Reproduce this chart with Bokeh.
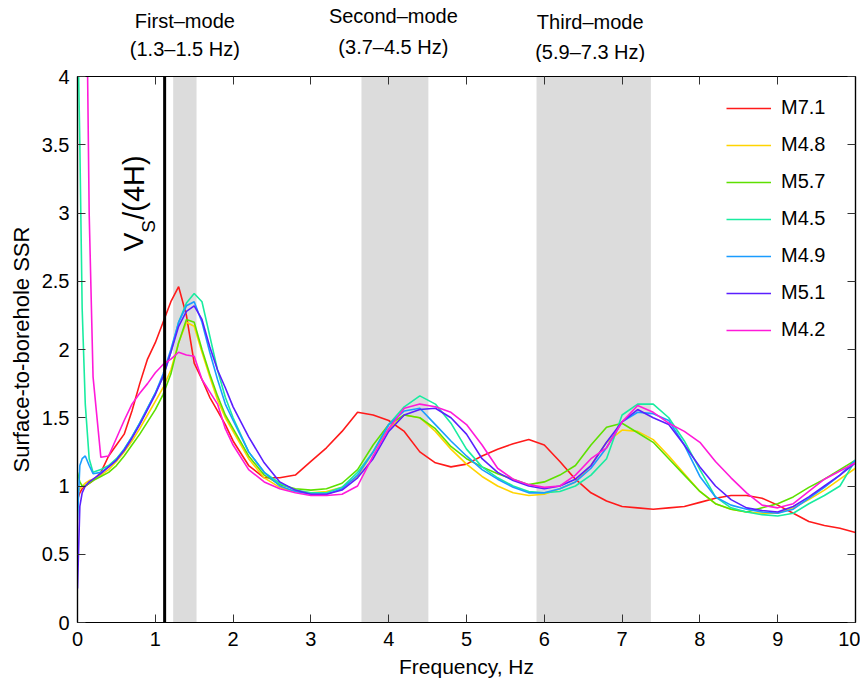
import math
from bokeh.plotting import figure
from bokeh.layouts import column
from bokeh.models import (Range1d, LinearAxis, FixedTicker, BoxAnnotation, Span,
                          Label, Legend, LegendItem, CustomJSTickFormatter)
from bokeh.core.properties import value
from bokeh.embed import file_html
from bokeh.resources import INLINE

# ---------------- data ----------------
freq = [0, 0.03, 0.06, 0.1, 0.15, 0.2,
        0.3, 0.4, 0.5, 0.6, 0.7, 0.8, 0.9, 1.0, 1.1, 1.2,
        1.3, 1.4, 1.5, 1.6, 1.7, 1.8, 1.9, 2.0,
        2.2, 2.4, 2.6, 2.8, 3.0, 3.2, 3.4, 3.6, 3.8, 4.0,
        4.2, 4.4, 4.6, 4.8, 5.0, 5.2, 5.4, 5.6, 5.8, 6.0,
        6.2, 6.4, 6.6, 6.8, 7.0, 7.2, 7.4, 7.6, 7.8, 8.0,
        8.2, 8.4, 8.6, 8.8, 9.0, 9.2, 9.4, 9.6, 9.8, 10.0]

m71 = [0.90, 0.95, 0.98, 1.00, 1.02, 1.04,
       1.10, 1.22, 1.30, 1.38, 1.55, 1.75, 1.93, 2.05, 2.20, 2.35,
       2.46, 2.25, 1.90, 1.78, 1.65, 1.55, 1.45, 1.33,
       1.15, 1.06, 1.06, 1.08, 1.18, 1.28, 1.40, 1.54, 1.52, 1.48,
       1.40, 1.25, 1.17, 1.14, 1.16, 1.22, 1.27, 1.31, 1.34, 1.30,
       1.18, 1.05, 0.95, 0.89, 0.85, 0.84, 0.83, 0.84, 0.85, 0.88,
       0.91, 0.93, 0.93, 0.91, 0.86, 0.80, 0.74, 0.71, 0.69, 0.66]

m48 = [0.95, 0.98, 1.00, 1.02, 1.04, 1.05,
       1.08, 1.12, 1.18, 1.25, 1.33, 1.42, 1.52, 1.62, 1.72, 1.85,
       2.05, 2.20, 2.17, 1.98, 1.80, 1.63, 1.50, 1.40,
       1.20, 1.06, 0.99, 0.96, 0.95, 0.96, 0.99, 1.07, 1.25, 1.42,
       1.52, 1.50, 1.40, 1.27, 1.16, 1.07, 1.00, 0.95, 0.93, 0.94,
       0.98, 1.03, 1.15, 1.32, 1.41, 1.40, 1.34, 1.22, 1.09, 0.96,
       0.87, 0.83, 0.81, 0.80, 0.80, 0.84, 0.90, 0.97, 1.05, 1.13]

m57 = [1.10, 1.03, 1.00, 1.00, 1.02, 1.04,
       1.07, 1.10, 1.15, 1.22, 1.30, 1.38, 1.47, 1.56, 1.67, 1.82,
       2.05, 2.22, 2.20, 2.00, 1.82, 1.66, 1.52, 1.42,
       1.22, 1.08, 1.01, 0.98, 0.97, 0.98, 1.02, 1.12, 1.30, 1.45,
       1.52, 1.50, 1.42, 1.29, 1.20, 1.14, 1.09, 1.05, 1.01, 1.03,
       1.08, 1.15, 1.30, 1.43, 1.46, 1.39, 1.32, 1.20, 1.08, 0.96,
       0.87, 0.83, 0.81, 0.84, 0.87, 0.92, 0.99, 1.05, 1.12, 1.19]

m45 = [4.50, 3.50, 2.30, 1.60, 1.20, 1.10,
       1.12, 1.15, 1.20, 1.27, 1.36, 1.46, 1.57, 1.68, 1.80, 1.98,
       2.20, 2.34, 2.41, 2.35, 2.10, 1.85, 1.65, 1.50,
       1.25, 1.10, 1.02, 0.97, 0.95, 0.95, 0.99, 1.10, 1.25, 1.45,
       1.58, 1.66, 1.60, 1.46, 1.27, 1.14, 1.06, 1.00, 0.96, 0.95,
       0.96, 1.00, 1.08, 1.20, 1.52, 1.60, 1.60, 1.50, 1.33, 1.12,
       0.92, 0.84, 0.81, 0.79, 0.78, 0.80, 0.87, 0.93, 1.00, 1.19]

m49 = [0.75, 1.15, 1.20, 1.22, 1.15, 1.09,
       1.10, 1.14, 1.19, 1.27, 1.36, 1.46, 1.57, 1.68, 1.82, 2.00,
       2.20, 2.32, 2.35, 2.20, 1.98, 1.78, 1.60, 1.48,
       1.25, 1.10, 1.00, 0.96, 0.94, 0.94, 0.98, 1.08, 1.25, 1.45,
       1.55, 1.57, 1.45, 1.33, 1.22, 1.12, 1.05, 0.99, 0.95, 0.95,
       0.98, 1.03, 1.13, 1.28, 1.47, 1.54, 1.53, 1.48, 1.30, 1.07,
       0.92, 0.86, 0.83, 0.81, 0.80, 0.83, 0.91, 0.99, 1.08, 1.19]

m51 = [0.25, 0.85, 0.95, 1.00, 1.03, 1.05,
       1.09, 1.14, 1.19, 1.26, 1.35, 1.45, 1.56, 1.67, 1.80, 1.98,
       2.17, 2.28, 2.32, 2.22, 2.02, 1.85, 1.72, 1.58,
       1.36, 1.17, 1.03, 0.97, 0.94, 0.94, 0.97, 1.06, 1.20, 1.40,
       1.52, 1.56, 1.57, 1.50, 1.38, 1.20, 1.10, 1.04, 1.00, 0.98,
       1.00, 1.05, 1.15, 1.32, 1.47, 1.56, 1.50, 1.45, 1.30, 1.14,
       1.00, 0.90, 0.84, 0.82, 0.81, 0.85, 0.92, 1.00, 1.08, 1.17]

m42 = [6.00, 6.00, 6.00, 5.50, 3.00, 1.80,
       1.21, 1.22, 1.35, 1.48, 1.60, 1.68, 1.75, 1.83, 1.89, 1.93,
       1.98, 1.96, 1.95, 1.78, 1.69, 1.60, 1.42, 1.30,
       1.12, 1.03, 0.98, 0.95, 0.93, 0.93, 0.94, 1.00, 1.22, 1.42,
       1.57, 1.60, 1.58, 1.54, 1.45, 1.30, 1.13, 1.05, 1.01, 0.99,
       1.00, 1.08, 1.20, 1.28, 1.47, 1.59, 1.54, 1.46, 1.40, 1.32,
       1.18, 1.06, 0.95, 0.86, 0.84, 0.87, 0.96, 1.05, 1.11, 1.17]

series_names = ["M7.1", "M4.8", "M5.7", "M4.5", "M4.9", "M5.1", "M4.2"]
series_values = [m71, m48, m57, m45, m49, m51, m42]
series_colors = ["#ff1a1a", "#ffd400", "#5ee000", "#19eca0", "#1a9cff", "#5a1fff", "#ff1ad9"]

band_lo = [1.23, 3.65, 5.90]
band_hi = [1.53, 4.51, 7.37]
mode_titles = ["First\u2013mode", "Second\u2013mode", "Third\u2013mode"]
mode_ranges = ["(1.3\u20131.5 Hz)", "(3.7\u20134.5 Hz)", "(5.9\u20137.3 Hz)"]
mode_label_x = [1.38, 4.06, 6.59]
mode_title_y = [0.677, 0.742, 0.661]   # position in the header strip (0..1)
mode_range_y = [0.210, 0.242, 0.177]
vs_line_x = 1.12

x_ticks = [0, 1, 2, 3, 4, 5, 6, 7, 8, 9, 10]
y_ticks = [0, 0.5, 1, 1.5, 2, 2.5, 3, 3.5, 4]
y_tick_labels = ["0", "0.5", "1", "1.5", "2", "2.5", "3", "3.5", "4"]

FONT = "Liberation Sans"
LEFT = 77
FRAME_W = 778
HEADER_H = 62

# ---------------- main figure ----------------
xr = Range1d(0, 10)
p = figure(frame_width=FRAME_W, frame_height=546,
           x_range=xr, y_range=Range1d(0, 4),
           output_backend="svg", toolbar_location=None,
           min_border_left=LEFT, min_border_top=76 - HEADER_H,
           min_border_bottom=55, min_border_right=5,
           background_fill_color="white", border_fill_color="white")
p.xgrid.visible = False
p.ygrid.visible = False
p.outline_line_color = "black"
p.outline_line_width = 1.2

for lo, hi in zip(band_lo, band_hi):
    p.add_layout(BoxAnnotation(left=lo, right=hi, fill_color="#dcdcdc",
                               fill_alpha=1.0, line_color=None, level="underlay"))

items = []
for name, vals, col in zip(series_names, series_values, series_colors):
    r = p.line(freq, vals, line_color=col, line_width=1.6)
    items.append(LegendItem(label=name, renderers=[r]))

p.add_layout(Span(location=vs_line_x, dimension="height", line_color="black",
                  line_width=3))

empty_fmt = CustomJSTickFormatter(code="return '';")

def style_axis(ax, ticks, show_labels=True):
    ax.ticker = FixedTicker(ticks=ticks)
    ax.major_tick_in = 8
    ax.major_tick_out = 0
    ax.minor_tick_line_color = None
    ax.axis_line_color = "black"
    ax.axis_line_width = 1.2
    ax.major_tick_line_color = "#333333"
    ax.major_tick_line_width = 1
    if show_labels:
        ax.major_label_text_font = FONT
        ax.major_label_text_font_size = "20px"
        ax.major_label_text_color = "black"
        ax.axis_label_text_font = FONT
        ax.axis_label_text_font_size = "21px"
        ax.axis_label_text_font_style = "normal"
        ax.axis_label_text_color = "black"
    else:
        ax.formatter = empty_fmt
        ax.major_label_standoff = 0

xa = p.xaxis[0]
style_axis(xa, x_ticks)
xa.axis_label = "Frequency, Hz"
xa.major_label_standoff = 9
xa.axis_label_standoff = 6

ya = p.yaxis[0]
style_axis(ya, y_ticks)
ya.major_label_overrides = {t: s for t, s in zip(y_ticks, y_tick_labels)}
ya.axis_label = "Surface-to-borehole SSR"
ya.major_label_standoff = 8
ya.axis_label_standoff = 5
ya.axis_label_text_font_size = "22px"

ra = LinearAxis()
style_axis(ra, y_ticks, show_labels=False)
p.add_layout(ra, "right")
ta = LinearAxis()
style_axis(ta, x_ticks, show_labels=False)
p.add_layout(ta, "above")

# V_S/(4H) rotated label
ang = math.pi / 2
p.add_layout(Label(x=0.72, y=2.72, text="V", angle=ang, text_align="left",
                   text_baseline="middle", text_font=FONT,
                   text_font_size="28px", text_color="black"))
p.add_layout(Label(x=0.91, y=2.855, text="S", angle=ang, text_align="left",
                   text_baseline="middle", text_font=FONT,
                   text_font_size="19px", text_color="black"))
p.add_layout(Label(x=0.72, y=2.95, text="/(4H)", angle=ang, text_align="left",
                   text_baseline="middle", text_font=FONT,
                   text_font_size="29px", text_color="black"))

legend = Legend(items=items, location=(649, 281), margin=0, padding=8,
                spacing=14, glyph_width=45, glyph_height=20, label_height=20,
                label_standoff=10, label_text_font=FONT,
                label_text_font_size="20px", label_text_color="black",
                border_line_color=None, background_fill_color="white",
                background_fill_alpha=1.0)
p.add_layout(legend)

# ---------------- header strip with mode labels ----------------
top = figure(frame_width=FRAME_W, frame_height=HEADER_H, x_range=xr,
             y_range=Range1d(0, 1), x_axis_location=None, y_axis_location=None,
             output_backend="svg", toolbar_location=None,
             min_border_left=LEFT, min_border_right=5, min_border_top=0,
             min_border_bottom=0, outline_line_color=None,
             background_fill_color="white", border_fill_color="white")
top.grid.visible = False
top.text(x=mode_label_x, y=mode_title_y, text=mode_titles, text_align="center",
         text_baseline="middle", text_font=value(FONT), text_font_size="20px",
         text_color="black")
top.text(x=mode_label_x, y=mode_range_y, text=mode_ranges, text_align="center",
         text_baseline="middle", text_font=value(FONT), text_font_size="20px",
         text_color="black")

layout = column(top, p, spacing=0)
open("out.html", "w").write(file_html(layout, INLINE))
